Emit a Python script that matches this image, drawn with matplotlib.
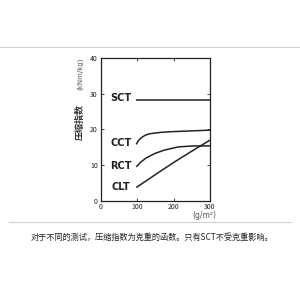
import matplotlib
matplotlib.use("Agg")
import matplotlib.pyplot as plt
from matplotlib.lines import Line2D

plt.rcParams['font.family'] = ['Noto Sans CJK SC', 'DejaVu Sans']

# Data
sct_x = [97, 300]
sct_y = [28.4, 28.4]
cct_x = [98, 102, 107, 115, 123, 135, 150, 168, 200, 250, 300]
cct_y = [15.8, 16.6, 17.2, 17.9, 18.4, 18.8, 19.0, 19.2, 19.4, 19.6, 19.8]
rct_x = [98, 110, 125, 150, 175, 213, 250, 300]
rct_y = [9.5, 10.8, 12.0, 13.3, 14.2, 15.1, 15.35, 15.4]
clt_x = [98, 150, 200, 250, 300]
clt_y = [3.7, 7.3, 10.7, 13.9, 17.0]
series_names = ["SCT", "CCT", "RCT", "CLT"]
label_y = [28.9, 16.3, 9.8, 3.9]
xticks = [0, 100, 200, 300]
yticks = [0, 10, 20, 30, 40]
caption = "对于不同的测试，压缩指数为克重的函数。只有SCT不受克重影响。"

fig = plt.figure(figsize=(3, 3), dpi=100)
ax = fig.add_axes([0.335, 0.331, 0.365, 0.475])

for xs, ys in [(sct_x, sct_y), (cct_x, cct_y), (rct_x, rct_y), (clt_x, clt_y)]:
    ax.plot(xs, ys, color='#222222', lw=1.1, solid_capstyle='butt')

for name, ly in zip(series_names, label_y):
    ax.text(57, ly, name, ha='center', va='center', fontsize=7,
            fontweight='bold', color='#222222', family=['DejaVu Sans'])

ax.set_xlim(0, 300)
ax.set_ylim(0, 40)
ax.set_xticks(xticks)
ax.set_yticks(yticks)
ax.tick_params(direction='in', top=True, right=True, length=2.5, width=0.6,
               labelsize=5, pad=2, colors='#222222')
for s in ax.spines.values():
    s.set_linewidth(0.9)
    s.set_color('#222222')

fig.text(0.268, 0.595, "压缩指数", rotation=90, ha='center', va='center',
         fontsize=6.5, fontweight='bold', color='#333333')
fig.text(0.268, 0.755, "(kNm/kg)", rotation=90, ha='center', va='center',
         fontsize=5, color='#555555', family=['DejaVu Sans'])
fig.text(0.68, 0.283, "(g/m²)", ha='center', va='center', fontsize=5.5,
         color='#555555', family=['DejaVu Sans'])

fig.add_artist(Line2D([0.0, 1.0], [1 - 47/300, 1 - 47/300], color='#d0d0d0', lw=0.8))
fig.add_artist(Line2D([0.03, 0.97], [1 - 222/300, 1 - 222/300], color='#d0d0d0', lw=0.8))

fig.text(0.505, 1 - 237/300, caption, ha='center', va='center', fontsize=5.9,
         color='#222222')

fig.savefig("out.png", dpi=100, facecolor='white')
